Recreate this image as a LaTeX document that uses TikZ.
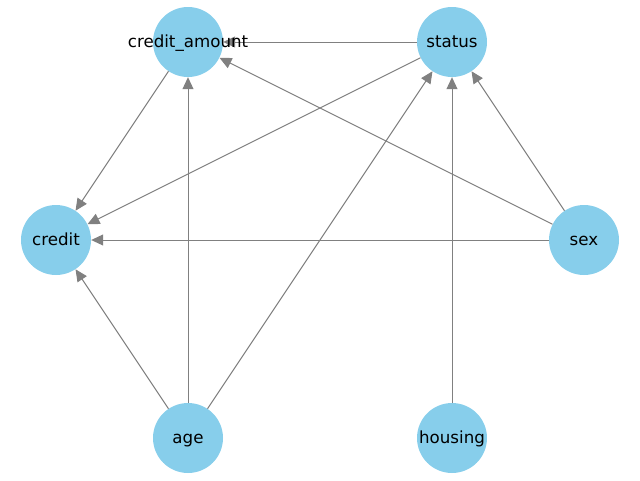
\documentclass[tikz,border=0pt]{standalone}
\usepackage{fontspec}
\setmainfont{DejaVu Sans}
\usetikzlibrary{arrows.meta}
\definecolor{skyblue}{HTML}{87CEEB}
\definecolor{edgegray}{HTML}{808080}
\begin{document}
\begin{tikzpicture}[x=1pt,y=-1pt,
  vert/.style={circle,fill=skyblue,minimum size=70pt,inner sep=0pt},
  lab/.style={inner sep=0pt,anchor=base,font=\fontsize{16.67}{20}\selectfont},
  edge/.style={draw=edgegray,line width=1pt,-{Triangle[length=12pt,width=11pt]}}]
\useasboundingbox (0,0) rectangle (640,480);
\node[vert] (ca) at (188,42) {};
\node[vert] (st) at (452,42) {};
\node[vert] (cr) at (56,240) {};
\node[vert] (sx) at (584,240) {};
\node[vert] (ag) at (188,438) {};
\node[vert] (ho) at (452,438) {};
\draw[edge] (st) -- (ca);
\draw[edge] (ca) -- (cr);
\draw[edge] (st) -- (cr);
\draw[edge] (ag) -- (ca);
\draw[edge] (ag) -- (st);
\draw[edge] (ag) -- (cr);
\draw[edge] (sx) -- (ca);
\draw[edge] (sx) -- (st);
\draw[edge] (sx) -- (cr);
\draw[edge] (ho) -- (st);
\node[lab] (lca) at (188,47) {credit\_amount};
\node[lab] (lst) at (452,47) {status};
\node[lab] (lcr) at (56,245) {credit};
\node[lab] (lsx) at (584,245) {sex};
\node[lab] (lag) at (188,443) {age};
\node[lab] (lho) at (452,443) {housing};
\end{tikzpicture}
\end{document}
